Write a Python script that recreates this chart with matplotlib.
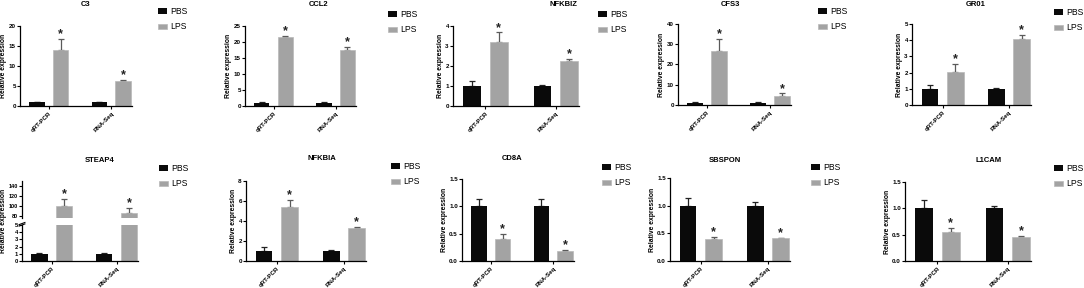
import numpy as np
import matplotlib
matplotlib.use('Agg')
import matplotlib.pyplot as plt
from matplotlib.ticker import FormatStrFormatter

plt.rcParams['font.family'] = ['Liberation Sans', 'DejaVu Sans']

# data
genes = ['C3', 'CCL2', 'NFKBIZ', 'CFS3', 'GR01',
         'STEAP4', 'NFKBIA', 'CD8A', 'SBSPON', 'L1CAM']
methods = ['qRT-PCR', 'RNA-Seq']
pbs_mean = [[1.0, 1.0], [1.0, 1.0], [1.0, 1.0], [1.0, 1.0], [1.0, 1.0],
            [1.0, 1.0], [1.0, 1.0], [1.0, 1.0], [1.0, 1.0], [1.0, 1.0]]
pbs_err = [[0.1, 0.1], [0.1, 0.1], [0.27, 0.05], [0.6, 0.6], [0.22, 0.03],
           [0.1, 0.1], [0.45, 0.06], [0.14, 0.13], [0.14, 0.06], [0.16, 0.04]]
lps_mean = [[14.0, 6.2], [21.6, 17.6], [3.2, 2.27], [26.5, 4.5], [2.05, 4.05],
            [100.0, 85.0], [5.4, 3.3], [0.40, 0.19], [0.40, 0.41], [0.55, 0.45]]
lps_err = [[2.7, 0.4], [0.4, 0.8], [0.48, 0.07], [6.0, 1.2], [0.48, 0.3],
           [13.0, 10.0], [0.75, 0.15], [0.10, 0.01], [0.04, 0.01], [0.08, 0.02]]
y_max = [20, 25, 4, 40, 5, 5, 8, 1.5, 1.5, 1.5]
y_step = [5, 5, 1, 10, 1, 1, 2, 0.5, 0.5, 0.5]
steap4_upper = (75, 150)
steap4_upper_ticks = [80, 100, 120, 140]

W, H = 1084, 288
fig = plt.figure(figsize=(W / 100, H / 100), dpi=100)

# layout in pixels: y-axis x, x-axis end, top y, zero y
boxes = [(20, 132, 26, 106), (245, 356, 26, 106), (453, 579, 26, 106),
         (678, 791, 24, 105), (912, 1031, 24, 105),
         (22, 138, 225, 261), (246, 366, 181, 261), (462, 574, 179, 261),
         (670, 790, 178, 261), (905, 1031, 182, 261)]
title_pos = [(86, 5), (319, 5), (563, 5), (730, 4), (976, 4),
             (100, 160), (322, 159), (512, 159), (725, 160), (989, 160)]
legend_pos = [(158, 7), (388, 10), (598, 10), (818, 7), (1054, 8),
              (159, 164), (391, 162), (602, 163), (811, 163), (1054, 164)]

BLACK = '#0a0a0a'
GRAY = '#a3a3a3'
ERR_GRAY = '#5a5a5a'
X = np.arange(2)
BW = 0.25
OFF = 0.19


def px_axes(l, r, t, b):
    return fig.add_axes([l / W, 1 - b / H, (r - l) / W, (b - t) / H])


def style(ax, bottom=True, ysize=4.5):
    for s in ['top', 'right']:
        ax.spines[s].set_visible(False)
    for s in ['left', 'bottom']:
        ax.spines[s].set_linewidth(0.9)
    ax.tick_params(axis='y', length=2, width=0.8, pad=1, labelsize=ysize)
    ax.set_xlim(-0.46, 1.33)
    if bottom:
        ax.set_xticks(X)
        ax.set_xticklabels(methods, rotation=45, ha='right',
                           rotation_mode='anchor', fontsize=4.4,
                           fontweight='bold')
        ax.tick_params(axis='x', length=2.5, width=0.8, pad=1.2)
    else:
        ax.spines['bottom'].set_visible(False)
        ax.set_xticks([])
    for lab in ax.get_yticklabels():
        lab.set_fontweight('bold')


def draw_bars(ax, i, star=True):
    b1 = ax.bar(X - OFF, pbs_mean[i], BW, color=BLACK, label='PBS', zorder=2)
    b2 = ax.bar(X + OFF, lps_mean[i], BW, color=GRAY, edgecolor='#b8b8b8',
                linewidth=0.5, label='LPS', zorder=2)
    ax.errorbar(X - OFF, pbs_mean[i], yerr=[[0, 0], pbs_err[i]], fmt='none',
                ecolor='#222222', elinewidth=0.9, capsize=2.2, capthick=0.9,
                zorder=1)
    ax.errorbar(X + OFF, lps_mean[i], yerr=[[0, 0], lps_err[i]], fmt='none',
                ecolor=ERR_GRAY, elinewidth=0.9, capsize=2.2, capthick=0.9,
                zorder=1)
    if star:
        for xx, m, e in zip(X + OFF, lps_mean[i], lps_err[i]):
            ax.annotate('*', xy=(xx, m + e), xytext=(0, -1),
                        textcoords='offset points', ha='center', va='bottom',
                        fontsize=9, fontweight='bold', color='#222222')
    return b1, b2


for i, g in enumerate(genes):
    l, r, t, b = boxes[i]
    if g == 'STEAP4':
        ax = px_axes(l, r, t, b)
        handles = draw_bars(ax, i, star=False)
        ax.set_ylim(0, y_max[i])
        ax.set_yticks(np.arange(0, y_max[i] + 0.01, y_step[i]))
        style(ax, ysize=4.2)
        axu = px_axes(l, r, 181, 218)
        draw_bars(axu, i, star=True)
        axu.set_ylim(*steap4_upper)
        axu.set_yticks(steap4_upper_ticks)
        style(axu, bottom=False, ysize=4.0)
        # break marks
        for yy in (1.0, 1.04):
            ax.plot([-0.025, 0.025], [yy - 0.03, yy + 0.03],
                    transform=ax.transAxes, color='k', lw=0.8, clip_on=False)
        fig.text(4 / W, 1 - ((181 + b) / 2) / H, 'Relative expression',
                 rotation=90, ha='center', va='center', fontsize=4.9,
                 fontweight='bold')
    else:
        ax = px_axes(l, r, t, b)
        handles = draw_bars(ax, i)
        ax.set_ylim(0, y_max[i])
        ax.set_yticks(np.arange(0, y_max[i] + 0.001, y_step[i]))
        if y_max[i] < 2:
            ax.yaxis.set_major_formatter(FormatStrFormatter('%.1f'))
        style(ax)
        ax.set_ylabel('Relative expression', fontsize=4.9, fontweight='bold',
                      labelpad=1)
    tx, ty = title_pos[i]
    fig.text(tx / W, 1 - ty / H, g, ha='center', va='center', fontsize=5.5,
             fontweight='bold')
    lx, ly = legend_pos[i]
    fig.legend(handles, ['PBS', 'LPS'], loc='upper left',
               bbox_to_anchor=(lx / W, 1 - ly / H), frameon=False,
               fontsize=6.2, handlelength=1.0, handleheight=0.6,
               handletextpad=0.45, labelspacing=0.75, borderpad=0,
               borderaxespad=0)

fig.savefig('out.png', dpi=100)
